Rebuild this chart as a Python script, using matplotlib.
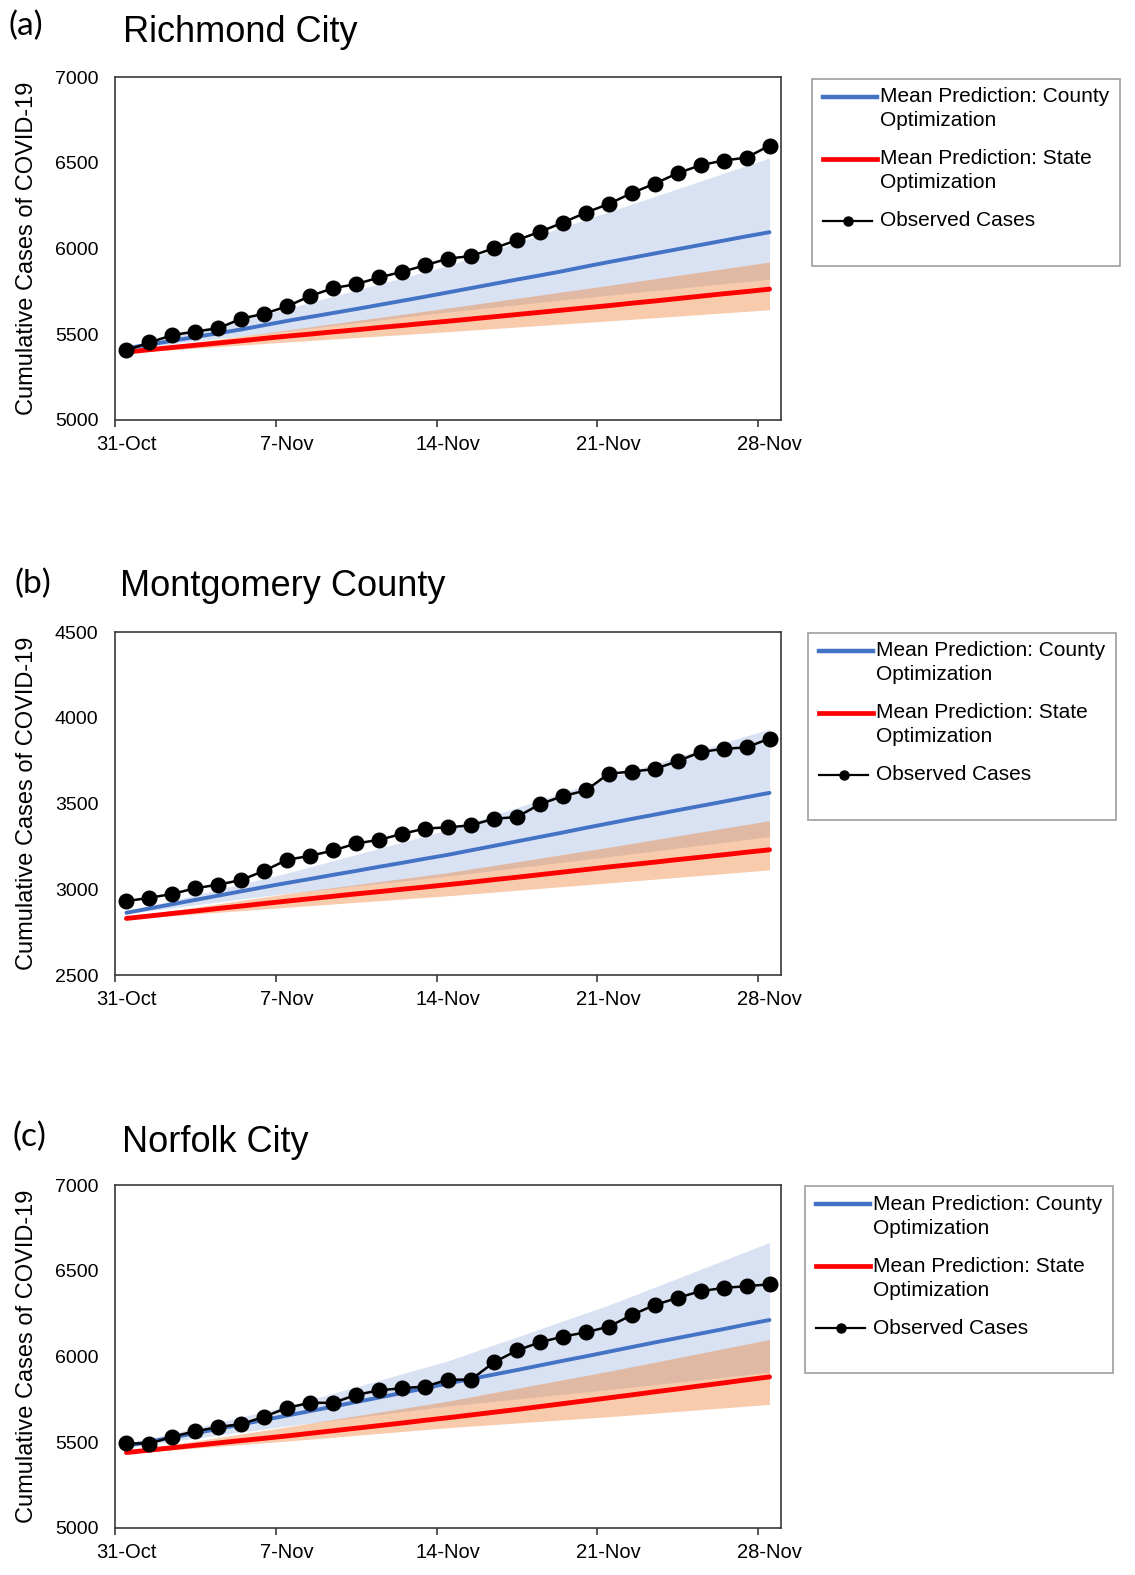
import matplotlib
matplotlib.use('Agg')
import matplotlib.pyplot as plt
from matplotlib.patches import Rectangle

plt.rcParams['font.family'] = ['Liberation Sans', 'DejaVu Sans']

# days since 31-Oct
days = list(range(29))
tick_days = [0, 7, 14, 21, 28]
tick_labels = ['31-Oct', '7-Nov', '14-Nov', '21-Nov', '28-Nov']
band_days = [0, 7, 14, 21, 28]

# (a) Richmond City
richmond_observed = [5406, 5452, 5495, 5516, 5535, 5591, 5620, 5663, 5723, 5769,
                     5792, 5831, 5864, 5902, 5941, 5956, 6001, 6049, 6097, 6151,
                     6209, 6260, 6323, 6378, 6439, 6486, 6513, 6530, 6600]
richmond_county = [5419, 5440, 5462, 5484, 5506, 5528, 5553, 5578, 5601, 5624,
                   5647, 5671, 5695, 5719, 5744, 5769, 5794, 5819, 5843, 5868,
                   5895, 5921, 5946, 5971, 5996, 6021, 6046, 6071, 6095]
richmond_state = [5396, 5410, 5423, 5436, 5449, 5462, 5476, 5489, 5501, 5514,
                  5526, 5539, 5551, 5564, 5576, 5589, 5602, 5615, 5628, 5641,
                  5654, 5667, 5681, 5694, 5708, 5722, 5736, 5749, 5763]
richmond_county_lo = [5414, 5520, 5630, 5728, 5821]
richmond_county_hi = [5425, 5650, 5900, 6214, 6528]
richmond_state_lo = [5392, 5455, 5515, 5578, 5643]
richmond_state_hi = [5400, 5525, 5653, 5785, 5921]

# (b) Montgomery County
montgomery_observed = [2931, 2950, 2973, 3006, 3027, 3054, 3108, 3172, 3195, 3226,
                       3267, 3288, 3323, 3354, 3361, 3373, 3411, 3421, 3496, 3543,
                       3576, 3674, 3686, 3701, 3747, 3800, 3819, 3827, 3879]
montgomery_county = [2863, 2888, 2913, 2938, 2963, 2988, 3013, 3037, 3060, 3084,
                     3107, 3131, 3154, 3178, 3201, 3227, 3253, 3279, 3305, 3331,
                     3358, 3384, 3410, 3435, 3461, 3486, 3511, 3537, 3562]
montgomery_state = [2830, 2844, 2859, 2873, 2888, 2902, 2917, 2931, 2945, 2959,
                    2973, 2986, 3000, 3013, 3027, 3041, 3056, 3070, 3085, 3100,
                    3115, 3130, 3144, 3158, 3173, 3187, 3201, 3216, 3230]
montgomery_county_lo = [2858, 2977, 3077, 3190, 3307]
montgomery_county_hi = [2870, 3095, 3346, 3650, 3935]
montgomery_state_lo = [2826, 2895, 2962, 3037, 3113]
montgomery_state_hi = [2835, 2975, 3097, 3245, 3400]

# (c) Norfolk City
norfolk_observed = [5494, 5492, 5533, 5564, 5589, 5606, 5649, 5701, 5730, 5730,
                    5776, 5803, 5815, 5825, 5865, 5865, 5966, 6035, 6083, 6116,
                    6141, 6174, 6242, 6300, 6342, 6381, 6400, 6410, 6421]
norfolk_county = [5479, 5503, 5528, 5553, 5578, 5604, 5630, 5656, 5682, 5708,
                  5735, 5761, 5788, 5815, 5843, 5869, 5895, 5921, 5948, 5975,
                  6001, 6028, 6055, 6082, 6108, 6134, 6160, 6187, 6213]
norfolk_state = [5440, 5454, 5468, 5482, 5496, 5510, 5523, 5537, 5552, 5567,
                 5582, 5597, 5612, 5628, 5643, 5659, 5675, 5691, 5708, 5725,
                 5742, 5759, 5776, 5794, 5811, 5829, 5846, 5864, 5881]
norfolk_county_lo = [5470, 5595, 5711, 5807, 5908]
norfolk_county_hi = [5490, 5710, 5975, 6300, 6665]
norfolk_state_lo = [5435, 5507, 5585, 5649, 5721]
norfolk_state_hi = [5445, 5590, 5740, 5914, 6099]

panel_tags = ['(a)', '(b)', '(c)']
panel_names = ['Richmond City', 'Montgomery County', 'Norfolk City']
y_ranges = [(5000, 7000), (2500, 4500), (5000, 7000)]

panels = [
    (richmond_observed, richmond_county, richmond_state,
     richmond_county_lo, richmond_county_hi, richmond_state_lo, richmond_state_hi),
    (montgomery_observed, montgomery_county, montgomery_state,
     montgomery_county_lo, montgomery_county_hi, montgomery_state_lo, montgomery_state_hi),
    (norfolk_observed, norfolk_county, norfolk_state,
     norfolk_county_lo, norfolk_county_hi, norfolk_state_lo, norfolk_state_hi),
]

BLUE = '#4472c4'
RED = '#ff0000'
ORANGE = '#ed7d31'
FRAME = '#3a3a3a'

W, H = 1135, 1575
fig = plt.figure(figsize=(W / 100, H / 100), dpi=100)

# layout in pixels
ax_left, ax_width, ax_height = 115, 666, 343
ax_tops = [77, 632, 1185]
tag_pos = [(8, 26), (15, 584), (12, 1137)]
name_pos = [(123, 32), (120, 587), (122, 1143)]
legend_pos = [(812, 79), (808, 633), (805, 1186)]

for i, data in enumerate(panels):
    obs, county, state, c_lo, c_hi, s_lo, s_hi = data
    top = ax_tops[i]
    ax = fig.add_axes([ax_left / W, 1 - (top + ax_height) / H,
                       ax_width / W, ax_height / H])

    ax.fill_between(band_days, c_lo, c_hi, color=BLUE, alpha=0.2, lw=0)
    ax.fill_between(band_days, s_lo, s_hi, color=ORANGE, alpha=0.4, lw=0)
    ax.plot(days, state, color=RED, lw=3.5, solid_capstyle='round')
    ax.plot(days, county, color=BLUE, lw=2.8, solid_capstyle='round')
    ax.plot(days, obs, color='black', lw=1.8, marker='o', ms=10.5)

    ax.set_xlim(-0.5, 28.5)
    ax.set_ylim(*y_ranges[i])
    ax.set_yticks(range(y_ranges[i][0], y_ranges[i][1] + 1, 500))

    # tick marks sit between days, labels sit on the days
    ax.set_xticks([d - 0.5 for d in tick_days])
    ax.set_xticklabels([])
    ax.set_xticks(tick_days, minor=True)
    ax.set_xticklabels(tick_labels, minor=True)
    ax.tick_params(axis='x', which='major', direction='out', length=5,
                   width=1.2, color=FRAME)
    ax.tick_params(axis='x', which='minor', length=0, pad=11, labelsize=14.5)
    ax.tick_params(axis='y', length=0, pad=12, labelsize=14)

    for sp in ax.spines.values():
        sp.set_color(FRAME)
        sp.set_linewidth(1.2)

    ax.text((27 - ax_left) / ax_width, 0.5, 'Cumulative Cases of COVID-19',
            transform=ax.transAxes, rotation=90, ha='center', va='center',
            fontsize=17)

# overlay in pixel units for titles and legends
ov = fig.add_axes([0, 0, 1, 1])
ov.set_xlim(0, W)
ov.set_ylim(H, 0)
ov.axis('off')

for i in range(3):
    tx, ty = tag_pos[i]
    ov.text(tx, ty, panel_tags[i], ha='left', va='center', fontsize=24,
            family=['Lato', 'DejaVu Sans'])
    nx, ny = name_pos[i]
    ov.text(nx, ny, panel_names[i], ha='left', va='center', fontsize=26)

    x0, y0 = legend_pos[i]
    ov.add_patch(Rectangle((x0, y0), 308, 187, fill=False,
                           edgecolor='#a6a6a6', lw=1.3))
    ov.plot([x0 + 11, x0 + 65], [y0 + 18, y0 + 18], color=BLUE, lw=3.2)
    ov.plot([x0 + 11, x0 + 65], [y0 + 80, y0 + 80], color=RED, lw=3.4)
    ov.plot([x0 + 11, x0 + 60], [y0 + 142, y0 + 142], color='black', lw=1.6)
    ov.plot([x0 + 36], [y0 + 142], 'o', color='black', ms=6.5)
    lx = x0 + 68
    ov.text(lx, y0 + 18, 'Mean Prediction: County', va='center', fontsize=15)
    ov.text(lx, y0 + 42, 'Optimization', va='center', fontsize=15)
    ov.text(lx, y0 + 80, 'Mean Prediction: State', va='center', fontsize=15)
    ov.text(lx, y0 + 104, 'Optimization', va='center', fontsize=15)
    ov.text(lx, y0 + 142, 'Observed Cases', va='center', fontsize=15)

fig.savefig('out.png', dpi=100)
